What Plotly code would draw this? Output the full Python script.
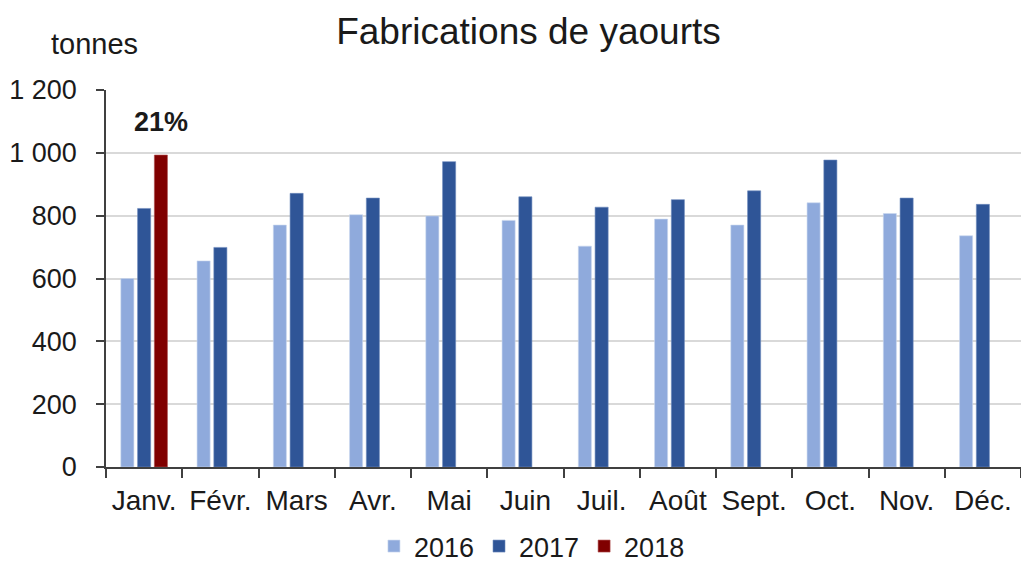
import plotly.graph_objects as go

months = ["Janv.", "Févr.", "Mars", "Avr.", "Mai", "Juin", "Juil.", "Août", "Sept.", "Oct.", "Nov.", "Déc."]
v2016 = [600, 656, 770, 803, 799, 785, 703, 789, 770, 841, 807, 736]
v2017 = [823, 699, 871, 856, 972, 860, 827, 851, 879, 977, 856, 836]
v2018 = [993, None, None, None, None, None, None, None, None, None, None, None]
label_2018 = "21%"

FONT = "Liberation Sans, Arial, sans-serif"
TXT = "#1a1a1a"

fig = go.Figure()
fig.add_trace(go.Bar(name="2016", x=months, y=v2016,
                     marker=dict(color="#8FAADC", line=dict(color="#C9D6EE", width=0.6))))
fig.add_trace(go.Bar(name="2017", x=months, y=v2017,
                     marker=dict(color="#2F5597", line=dict(color="#6F8BBE", width=0.6))))
fig.add_trace(go.Bar(name="2018", x=months, y=v2018,
                     marker=dict(color="#800000", line=dict(color="#B05050", width=0.6))))

fig.update_layout(
    width=1021, height=571,
    margin=dict(l=106, r=0, t=90, b=104, autoexpand=False),
    paper_bgcolor="white", plot_bgcolor="white",
    font=dict(family=FONT, size=27, color=TXT),
    separators=", ",
    barmode="group", bargap=0.34, bargroupgap=0.22,
    title=dict(text="Fabrications de yaourts", x=0.5176, xanchor="center", y=0.945, yanchor="middle",
               font=dict(family=FONT, size=37, color=TXT)),
    showlegend=True,
    legend=dict(orientation="h", xref="container", yref="container", x=0.521, xanchor="center",
                y=0.0, yanchor="bottom", font=dict(family=FONT, size=27, color=TXT),
                itemwidth=30, traceorder="normal"),
    annotations=[
        dict(text="tonnes", xref="paper", yref="paper", x=-0.013, y=1.122,
             xanchor="center", yanchor="middle", showarrow=False,
             font=dict(family=FONT, size=29, color=TXT)),
        dict(text="<b>" + label_2018 + "</b>", xref="x", yref="y", x=months[0], y=v2018[0],
             xanchor="center", yanchor="bottom", xshift=17, yshift=16, showarrow=False,
             font=dict(family=FONT, size=27, color=TXT)),
    ],
)

fig.update_yaxes(range=[0, 1200], dtick=200, tickformat=",d", showgrid=True, gridcolor="#D9D9D9", gridwidth=1.5,
                 showline=True, linecolor="#404040", linewidth=1.5, ticks="outside", ticklen=8,
                 tickcolor="#404040", tickwidth=1.5, zeroline=False, ticklabelstandoff=14,
                 tickfont=dict(size=27), automargin=False)
fig.update_xaxes(showline=True, linecolor="#404040", linewidth=1.5, ticks="outside", ticklen=9,
                 tickcolor="#404040", tickwidth=1.5, tickson="boundaries", showgrid=False,
                 ticklabelstandoff=8, tickfont=dict(size=28), automargin=False)

fig.write_html("out.html", config={"displayModeBar": False},
               post_script="document.body.style.margin='0';")
